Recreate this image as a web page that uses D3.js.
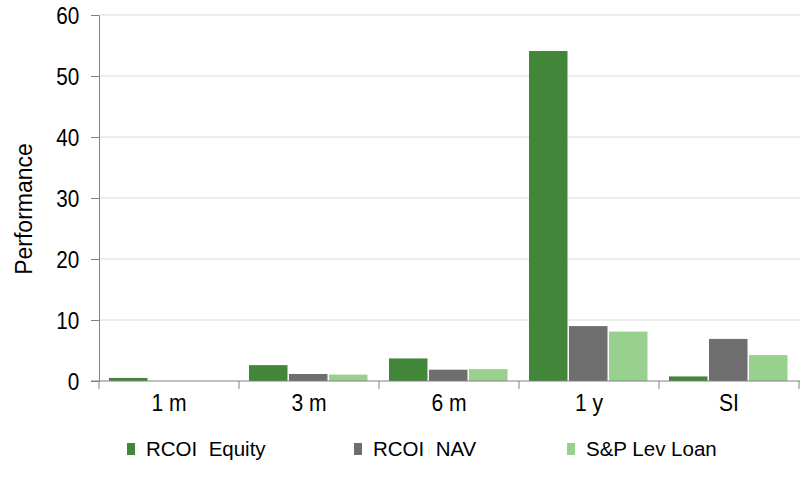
<!DOCTYPE html>
<meta charset="utf-8">
<style>
body { margin: 0; background: #fff; }
text { font-family: "Liberation Sans", Arial, sans-serif; fill: #000; }
</style>
<svg width="800" height="482"></svg>
<script src="https://cdn.jsdelivr.net/npm/d3@7"></script>
<script>

// periods and the three series (performance, %)
var periods = ["1 m", "3 m", "6 m", "1 y", "SI"];
var seriesNames = ["RCOI  Equity", "RCOI  NAV", "S&P Lev Loan"];
var equity = [0.5, 2.6, 3.7, 54.1, 0.75];
var nav = [0.0, 1.15, 1.85, 9.0, 6.9];
var levLoan = [0.0, 1.05, 1.95, 8.1, 4.25];
var yTicks = [0, 10, 20, 30, 40, 50, 60];

var colors = ["#42863a", "#6e6e6e", "#98d18e"];
var values = [equity, nav, levLoan];

var svg = d3.select("svg"),
    plotLeft = 99, plotRight = 799, plotTop = 15, plotBottom = 381;

var x = d3.scaleBand()
    .domain(periods)
    .range([plotLeft, plotRight]);

var xs = d3.scaleBand()
    .domain(d3.range(seriesNames.length))
    .range([10, x.bandwidth() - 10]);

var y = d3.scaleLinear()
    .domain([0, 60])
    .range([plotBottom, plotTop]);

// gridlines
svg.append("g")
  .selectAll("line")
  .data(yTicks.slice(1))
  .enter().append("line")
    .attr("x1", plotLeft).attr("x2", plotRight + 1)
    .attr("y1", function(d) { return y(d); })
    .attr("y2", function(d) { return y(d); })
    .attr("stroke", "#d9d9d9")
    .attr("stroke-width", 1);

// bars
var groups = svg.append("g")
  .selectAll("g")
  .data(periods)
  .enter().append("g")
    .attr("transform", function(d) { return "translate(" + x(d) + ",0)"; });

groups.selectAll("rect")
  .data(function(d, i) { return values.map(function(v, k) { return {k: k, v: v[i]}; }); })
  .enter().append("rect")
    .attr("x", function(d) { return xs(d.k); })
    .attr("width", xs.bandwidth() - 1.5)
    .attr("y", function(d) { return y(d.v); })
    .attr("height", function(d) { return y(0) - y(d.v); })
    .attr("fill", function(d) { return colors[d.k]; });

// y axis
var yAxis = svg.append("g")
    .attr("transform", "translate(" + plotLeft + ",0)")
    .call(d3.axisLeft(y).tickValues(yTicks).tickSize(8).tickPadding(14).tickSizeOuter(0));
yAxis.select(".domain").attr("stroke", "#808080");
yAxis.selectAll(".tick line").attr("stroke", "#808080");
yAxis.selectAll(".tick text")
    .style("font-size", "23px")
    .attr("transform", "scale(0.9,1)")
    .attr("dy", "0.36em");

// x axis
var xAxis = svg.append("g")
    .attr("transform", "translate(0," + plotBottom + ")")
    .call(d3.axisBottom(x).tickSize(0).tickSizeOuter(0));
xAxis.select(".domain").remove();
xAxis.append("line")
    .attr("x1", plotLeft - 8).attr("x2", plotRight + 1)
    .attr("stroke", "#808080");
xAxis.selectAll(".tick text")
    .style("font-size", "23px")
    .attr("transform", "scale(0.92,1)")
    .attr("y", 14)
    .attr("dy", "0.71em");
xAxis.selectAll(".sep")
  .data(d3.range(periods.length + 1))
  .enter().append("line")
    .attr("x1", function(i) { return plotLeft + i * x.step(); })
    .attr("x2", function(i) { return plotLeft + i * x.step(); })
    .attr("y1", 0).attr("y2", 8)
    .attr("stroke", "#808080");

// y title
svg.append("text")
    .attr("transform", "translate(32,209) rotate(-90)")
    .attr("text-anchor", "middle")
    .style("font-size", "23px")
    .text("Performance");

// legend
var legendX = [127, 354, 567];
var legend = svg.append("g")
  .selectAll("g")
  .data(seriesNames)
  .enter().append("g")
    .attr("transform", function(d, i) { return "translate(" + legendX[i] + ",443)"; });
legend.append("rect")
    .attr("width", 8).attr("height", 12)
    .attr("fill", function(d, i) { return colors[i]; });
legend.append("text")
    .attr("x", 19).attr("y", 6)
    .attr("dy", "0.36em")
    .style("font-size", "20.5px")
    .style("white-space", "pre")
    .text(function(d) { return d; });

</script>
